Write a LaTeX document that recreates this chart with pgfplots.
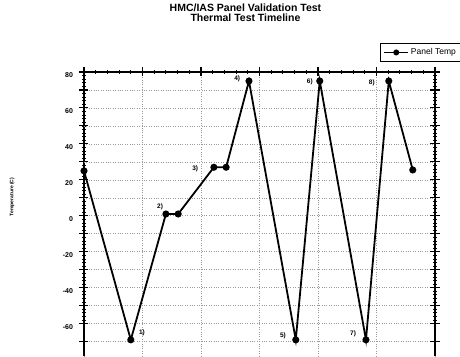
\documentclass[border=0pt]{standalone}
\usepackage{fontspec}
\setmainfont{Liberation Sans}
\usepackage{pgfplots}
\pgfplotsset{compat=1.18}
\begin{document}
\begin{tikzpicture}
\clip (-84pt,0pt) rectangle (376pt,356pt);
\begin{axis}[
  at={(0,0)}, anchor=south west,
  scale only axis, width=351pt, height=284pt,
  xmin=0, xmax=6, ymin=-78, ymax=80,
  clip=false,
  axis x line*=top,
  axis line style={line width=1.5pt},
  xtick={0,1,...,6}, xticklabels={},
  minor x tick num=4,
  ytick={-60,-40,...,80},
  minor y tick num=9,
  extra y ticks={-70,-50,...,70},
  extra y tick labels={},
  extra y tick style={grid=major, major tick length=9pt},
  major tick length=9pt, minor tick length=4pt,
  tick align=center,
  major tick style={line width=1.1pt, black},
  minor tick style={line width=0.8pt, black},
  ymajorgrids, xmajorgrids,
  grid style={dotted, gray!80, line width=0.6pt},
  /pgf/number format/assume math mode=true,
  ticklabel style={font=\bfseries\fontsize{7}{8}\selectfont},
  yticklabel style={xshift=-3pt, yshift=-3pt},
  ylabel={Temperature (C)},
  ylabel style={font=\bfseries\fontsize{5}{6}\selectfont, at={(axis description cs:-0.205,0.56)}, anchor=center},
  title={HMC/IAS Panel Validation Test\\Thermal Test Timeline},
  title style={font=\bfseries\fontsize{10.5}{10.5}\selectfont, align=center, at={(axis description cs:0.46,1.187)}, anchor=center},
  legend style={at={(axis description cs:0.843,1.102)}, anchor=north west, font=\fontsize{8.5}{9}\selectfont, draw=black, line width=1.2pt, inner sep=3pt, row sep=1pt},
  legend image post style={line width=1.5pt, mark size=2.2pt},
  legend image code/.code={\draw[#1] (0pt,0pt) -- (24pt,0pt); \draw[#1, mark repeat=2, mark phase=2] plot coordinates {(0pt,0pt) (12pt,0pt) (24pt,0pt)};},
  legend cell align=left,
]
\addplot[black, line width=1.8pt, mark=*, mark size=2.6pt] coordinates {
  (0,25) (0.80,-69) (1.40,1) (1.61,1) (2.22,27) (2.43,27) (2.82,75)
  (3.62,-69) (4.03,75) (4.82,-69) (5.21,75) (5.62,25.5)
};
\addlegendentry{Panel Temp}
\begin{scope}[every node/.style={font=\bfseries\fontsize{6.5}{7}\selectfont}]
\node at (axis cs:0.99,-65) {1)};
\node at (axis cs:1.30,5) {2)};
\node at (axis cs:1.90,26) {3)};
\node at (axis cs:2.62,76) {4)};
\node at (axis cs:3.40,-67) {5)};
\node at (axis cs:3.86,74.5) {6)};
\node at (axis cs:4.60,-65.5) {7)};
\node at (axis cs:4.92,74) {8)};
\end{scope}
\end{axis}
\end{tikzpicture}
\end{document}
